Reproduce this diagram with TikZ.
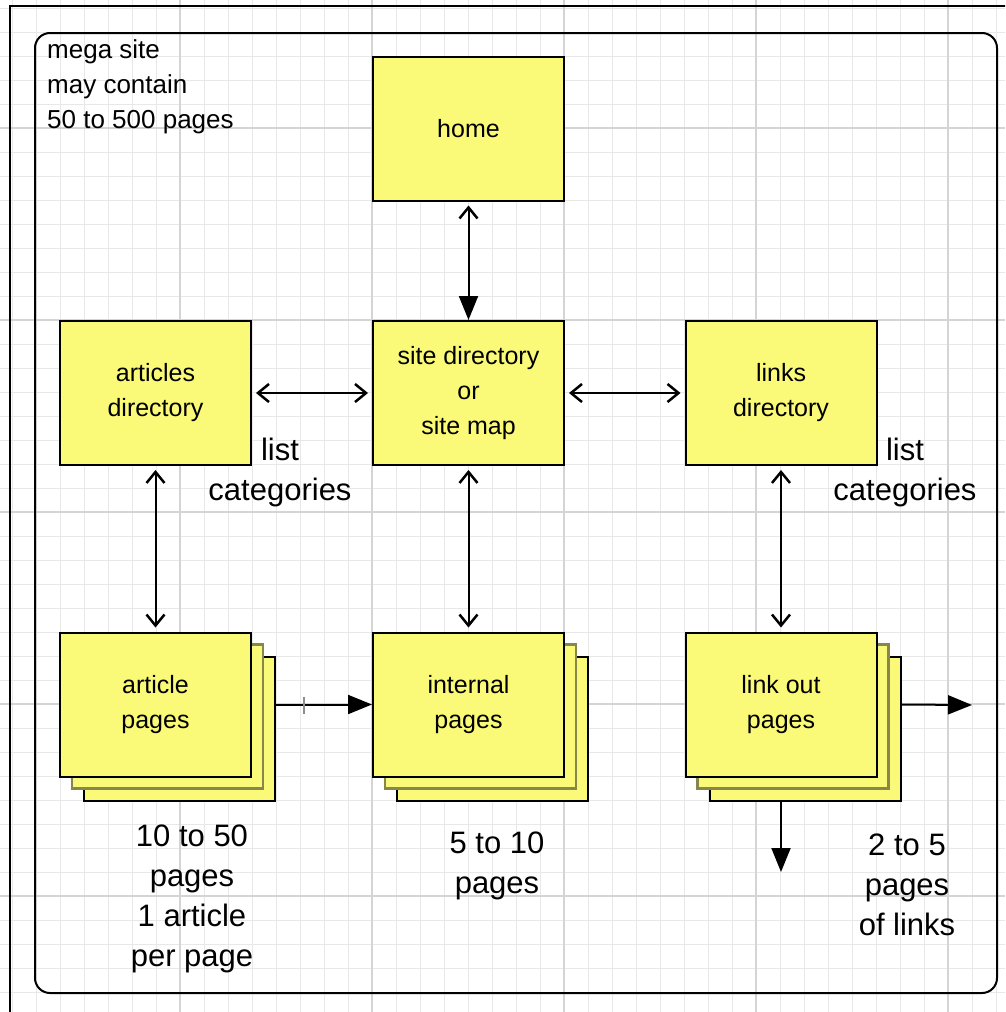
\documentclass[tikz,border=0pt]{standalone}
\usepackage{fontspec}
\setmainfont{Liberation Sans}
\usepackage{xcolor}
\usetikzlibrary{arrows.meta}
\definecolor{noteyellow}{RGB}{250,250,120}
\definecolor{sheetedge}{RGB}{135,135,75}
\newcommand{\pageW}{191}
\newcommand{\pageH}{144}
\newcommand{\sheetShift}{12}

\begin{document}
\begin{tikzpicture}[x=1pt,y=-1pt,
	minorgrid/.style={draw=black!9,line width=1pt},
	majorgrid/.style={draw=black!17,line width=1.2pt},
	page/.style={draw=black,line width=2pt,fill=noteyellow,minimum width=\pageW pt,minimum height=\pageH pt,inner sep=0pt,align=center,font=\fontsize{25}{35}\selectfont},
	midsheet/.style={page,draw=sheetedge,line width=2.5pt},
	note/.style={align=center,font=\fontsize{31}{40}\selectfont,inner sep=0pt},
	link/.style={line width=2pt,shorten <=4pt,shorten >=4pt,{Straight Barb[length=11pt,width=18pt,line width=2.5pt]}-{Straight Barb[length=11pt,width=18pt,line width=2.5pt]}},
	flow/.style={line width=2pt,-{Triangle[length=24pt,width=19pt]}}]

	\clip (0,0) rectangle (1005,1012);
	\fill[white] (0,0) rectangle (1005,1012);

	% grid
	\foreach \gx in {12,36,...,1004} \draw[minorgrid] (\gx,0) -- (\gx,1012);
	\foreach \gy in {8,32,...,1012} \draw[minorgrid] (0,\gy) -- (1005,\gy);
	\foreach \gx in {180,372,...,948} \draw[majorgrid] (\gx,0) -- (\gx,1012);
	\foreach \gy in {128,320,...,896} \draw[majorgrid] (0,\gy) -- (1005,\gy);

	% frames
	\draw[line width=2.5pt] (10,1020) -- (10,6) -- (1020,6);
	\draw[line width=2pt,rounded corners=15pt] (35,33) rectangle (997,993);

	\node[anchor=north west,align=left,inner sep=0pt,font=\fontsize{26}{35}\selectfont] (mega) at (47,39) {mega site\\may contain\\50 to 500 pages};

	% directories
	\node[page] (home) at (468.5,128.5) {home};
	\node[page] (sitemap) at (468.5,393) {site directory\\or\\site map};
	\node[page] (artdir) at (155.5,393) {articles\\directory};
	\node[page] (linkdir) at (781,393) {links\\directory};

	% page stacks
	\node[page] (artpagesC) at (155.5+2*\sheetShift,704.5+2*\sheetShift) {};
	\node[midsheet] (artpagesB) at (155.5+\sheetShift,704.5+\sheetShift) {};
	\node[page] (artpages) at (155.5,704.5) {article\\pages};

	\node[page] (intpagesC) at (468.5+2*\sheetShift,704.5+2*\sheetShift) {};
	\node[midsheet] (intpagesB) at (468.5+\sheetShift,704.5+\sheetShift) {};
	\node[page] (intpages) at (468.5,704.5) {internal\\pages};

	\node[page] (linkpagesC) at (781+2*\sheetShift,704.5+2*\sheetShift) {};
	\node[midsheet] (linkpagesB) at (781+\sheetShift,704.5+\sheetShift) {};
	\node[page] (linkpages) at (781,704.5) {link out\\pages};

	% connectors
	\draw[line width=2pt,shorten <=4pt,{Straight Barb[length=11pt,width=18pt,line width=2.5pt]}-{Triangle[length=24pt,width=19pt]}] (home) -- (sitemap);
	\draw[link] (artdir) -- (sitemap);
	\draw[link] (sitemap) -- (linkdir);
	\draw[link] (artdir) -- (artpages);
	\draw[link] (sitemap) -- (intpages);
	\draw[link] (linkdir) -- (linkpages);

	\draw[flow] (artpagesC.east |- artpages.east) -- (intpages);
	\coordinate (tick) at (304,705);
	\draw[draw=black!45,line width=2pt] ([yshift=8pt]tick) -- ([yshift=-9pt]tick);

	\coordinate (outright) at (972,705);
	\coordinate (outdown) at (781,872);
	\draw[flow] (linkpagesC.east |- linkpages.east) -- (outright);
	\draw[flow] (linkpages.south |- linkpagesC.south) -- (outdown);

	% notes
	\node[note] (artcats) at (280,472) {list\\categories};
	\node[note] (linkcats) at (905,472) {list\\categories};
	\node[note] (artcount) at (192,899) {10 to 50\\pages\\1 article\\per page};
	\node[note] (intcount) at (497,866) {5 to 10\\pages};
	\node[note] (linkcount) at (907,885) {2 to 5\\pages\\of links};
\end{tikzpicture}
\end{document}
